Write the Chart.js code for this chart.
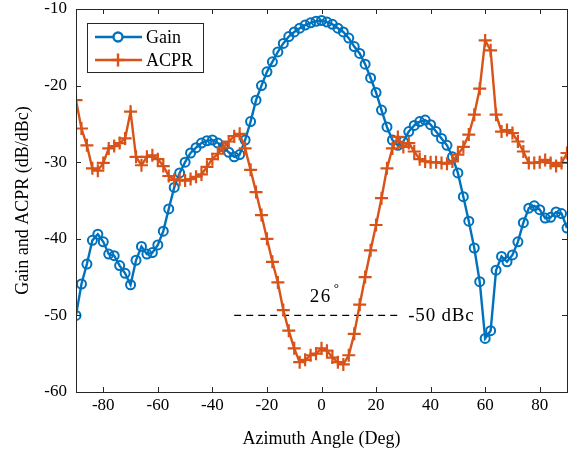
<!DOCTYPE html>
<html>
<head>
<meta charset="utf-8">
<script src="https://cdn.jsdelivr.net/npm/chart.js@4.4.1/dist/chart.umd.min.js"></script>
<style>
  html, body { margin: 0; padding: 0; background: #fff; }
  #wrap { width: 583px; height: 455px; }
</style>
</head>
<body>
<div id="wrap"><canvas id="chart" width="583" height="455"></canvas></div>
<script>
// azimuth angles (deg)
const angles = [-90, -88, -86, -84, -82, -80, -78, -76, -74, -72, -70, -68, -66, -64, -62, -60,
  -58, -56, -54, -52, -50, -48, -46, -44, -42, -40, -38, -36, -34, -32, -30, -28, -26, -24,
  -22, -20, -18, -16, -14, -12, -10, -8, -6, -4, -2, 0, 2, 4, 6, 8, 10, 12, 14, 16, 18, 20,
  22, 24, 26, 28, 30, 32, 34, 36, 38, 40, 42, 44, 46, 48, 50, 52, 54, 56, 58, 60, 62, 64,
  66, 68, 70, 72, 74, 76, 78, 80, 82, 84, 86, 88, 90];

const gain = [-50.0, -45.9, -43.3, -40.2, -39.4, -40.4, -42.0, -42.2, -43.5, -44.5, -46.0,
  -42.8, -41.0, -42.0, -41.8, -40.8, -39.0, -36.1, -33.3, -31.4, -30.0, -28.8, -28.1, -27.5,
  -27.2, -27.1, -27.5, -28.0, -28.7, -29.3, -29.0, -27.1, -24.7, -21.9, -20.0, -18.2, -16.9,
  -15.6, -14.5, -13.6, -13.0, -12.5, -12.1, -11.8, -11.6, -11.5, -11.7, -12.0, -12.5, -13.0,
  -13.8, -14.9, -15.8, -17.2, -19.0, -20.9, -23.2, -25.4, -27.1, -27.8, -27.3, -26.0, -25.2,
  -24.7, -24.5, -25.1, -26.0, -26.9, -27.8, -29.3, -31.4, -34.5, -37.7, -41.2, -45.6, -53.0,
  -52.0, -44.1, -42.3, -43.0, -42.1, -40.4, -37.9, -36.0, -35.7, -36.2, -37.3, -37.2, -36.5,
  -36.7, -38.6];

const acpr = [-21.9, -25.6, -27.8, -30.8, -31.1, -30.1, -28.2, -27.9, -27.5, -26.9, -23.4,
  -29.3, -30.4, -29.3, -29.1, -29.6, -30.5, -31.8, -32.3, -32.3, -32.4, -32.2, -31.9, -31.6,
  -30.6, -29.6, -28.9, -28.1, -27.3, -26.6, -26.3, -28.2, -31.0, -33.9, -36.9, -40.0, -43.0,
  -45.7, -49.3, -52.0, -54.3, -56.1, -55.8, -55.2, -55.0, -54.3, -54.6, -55.5, -56.1, -56.4,
  -55.2, -52.4, -48.6, -45.0, -41.5, -38.2, -34.7, -30.8, -28.2, -26.7, -28.0, -27.5, -28.6,
  -29.6, -29.9, -30.0, -30.0, -30.1, -30.2, -29.9, -29.0, -28.0, -26.4, -23.8, -20.4, -14.1,
  -15.4, -23.8, -26.0, -25.8, -26.2, -27.3, -28.6, -30.1, -30.1, -30.0, -29.7, -30.1, -30.5,
  -30.1, -28.8];

// -50 dBc reference line
const refAngles = [-32, 29];
const refLevel = [-50, -50];

const xTicks = [-80, -60, -40, -20, 0, 20, 40, 60, 80];
const yTicks = [-60, -50, -40, -30, -20, -10];

const BLUE = '#0072BD';
const ORANGE = '#D95319';
const AXIS = '#262626';
const FONT = "'Liberation Serif', 'Times New Roman', serif";

const toPoints = (xs, ys) => xs.map((x, i) => ({ x: x, y: ys[i] }));

// box + inward ticks like matlab
const frameTicks = {
  id: 'frameTicks',
  afterDatasetsDraw(chart) {
    const { ctx, chartArea: a, scales } = chart;
    const len = 5;
    ctx.save();
    ctx.strokeStyle = AXIS;
    ctx.lineWidth = 1;
    ctx.strokeRect(a.left + 0.5, a.top + 0.5, a.right - a.left, a.bottom - a.top);
    ctx.beginPath();
    xTicks.forEach(v => {
      const px = Math.round(scales.x.getPixelForValue(v)) + 0.5;
      ctx.moveTo(px, a.bottom); ctx.lineTo(px, a.bottom - len);
      ctx.moveTo(px, a.top); ctx.lineTo(px, a.top + len);
    });
    yTicks.forEach(v => {
      const py = Math.round(scales.y.getPixelForValue(v)) + 0.5;
      ctx.moveTo(a.left, py); ctx.lineTo(a.left + len, py);
      ctx.moveTo(a.right, py); ctx.lineTo(a.right - len, py);
    });
    ctx.stroke();
    ctx.restore();
  }
};

// legend box with line + marker samples
const legendBox = {
  id: 'legendBox',
  afterDraw(chart) {
    const { ctx } = chart;
    const x0 = 87, y0 = 23, w = 116, h = 49;
    ctx.save();
    ctx.fillStyle = '#fff';
    ctx.fillRect(x0, y0, w, h);
    ctx.strokeStyle = AXIS;
    ctx.lineWidth = 1;
    ctx.strokeRect(x0 + 0.5, y0 + 0.5, w, h);
    const rows = [37, 60];
    [0, 1].forEach((di, r) => {
      const ds = chart.data.datasets[di];
      const y = rows[r];
      ctx.strokeStyle = ds.borderColor;
      ctx.lineWidth = ds.borderWidth;
      ctx.beginPath();
      ctx.moveTo(95, y); ctx.lineTo(142, y);
      ctx.stroke();
      Chart.helpers.drawPoint(ctx, {
        pointStyle: ds.pointStyle, radius: ds.pointRadius, borderWidth: ds.pointBorderWidth
      }, 118, y);
      ctx.fillStyle = '#000';
      ctx.font = '18px ' + FONT;
      ctx.textBaseline = 'middle';
      ctx.textAlign = 'left';
      ctx.fillText(ds.label, 146, y + 1);
    });
    ctx.restore();
  }
};

// text notes
const notes = {
  id: 'notes',
  afterDraw(chart) {
    const { ctx, scales } = chart;
    ctx.save();
    ctx.fillStyle = '#000';
    ctx.textBaseline = 'middle';
    ctx.textAlign = 'left';
    ctx.font = '19px ' + FONT;
    ctx.letterSpacing = '1.5px';
    const x1 = scales.x.getPixelForValue(-4.3);
    const y1 = scales.y.getPixelForValue(-47.6);
    ctx.fillText('26', x1, y1);
    ctx.letterSpacing = '0px';
    ctx.font = '13px ' + FONT;
    ctx.fillText('\u00B0', x1 + 24, y1 - 8);
    ctx.font = '19px ' + FONT;
    ctx.letterSpacing = '0.8px';
    ctx.fillText('-50 dBc', scales.x.getPixelForValue(31.8), scales.y.getPixelForValue(-50.1));
    ctx.restore();
  }
};

new Chart(document.getElementById('chart'), {
  type: 'line',
  data: {
    datasets: [
      {
        label: 'Gain',
        data: toPoints(angles, gain),
        borderColor: BLUE,
        backgroundColor: 'rgba(0,0,0,0)',
        borderWidth: 2.4,
        pointStyle: 'circle',
        pointRadius: 4.5,
        pointBorderWidth: 2,
        pointBorderColor: BLUE,
        pointBackgroundColor: 'rgba(0,0,0,0)',
        tension: 0,
        order: 1
      },
      {
        label: 'ACPR',
        data: toPoints(angles, acpr),
        borderColor: ORANGE,
        backgroundColor: ORANGE,
        borderWidth: 2.4,
        pointStyle: 'cross',
        pointRadius: 6.5,
        pointBorderWidth: 2.2,
        pointBorderColor: ORANGE,
        tension: 0,
        order: 0
      },
      {
        label: 'ref',
        data: toPoints(refAngles, refLevel),
        borderColor: '#000',
        borderWidth: 1.3,
        borderDash: [7, 5],
        pointRadius: 0,
        order: 2
      }
    ]
  },
  options: {
    responsive: false,
    animation: false,
    layout: { padding: { top: 9, right: 16, left: 0, bottom: 0 } },
    plugins: {
      legend: { display: false },
      tooltip: { enabled: false }
    },
    scales: {
      x: {
        type: 'linear',
        min: -90,
        max: 90,
        afterBuildTicks: s => { s.ticks = xTicks.map(v => ({ value: v })); },
        afterFit: s => { s.height = 63; s.paddingLeft = 0; s.paddingRight = 0; },
        grid: { display: false, drawTicks: false },
        border: { display: false },
        ticks: {
          color: '#000',
          padding: 3,
          maxRotation: 0,
          font: { family: FONT, size: 17 }
        },
        title: {
          display: true,
          text: 'Azimuth Angle (Deg)',
          color: '#000',
          padding: { top: 2, bottom: 5 },
          font: { family: FONT, size: 18 }
        }
      },
      y: {
        min: -60,
        max: -10,
        afterBuildTicks: s => { s.ticks = yTicks.map(v => ({ value: v })); },
        afterFit: s => { s.width = 76; s.paddingTop = 0; s.paddingBottom = 0; },
        grid: { display: false, drawTicks: false },
        border: { display: false },
        ticks: {
          color: '#000',
          padding: 9,
          font: { family: FONT, size: 17 }
        },
        title: {
          display: true,
          text: 'Gain and ACPR (dB/dBc)',
          color: '#000',
          padding: { top: 12, bottom: 0 },
          font: { family: FONT, size: 18 }
        }
      }
    }
  },
  plugins: [frameTicks, legendBox, notes]
});
</script>
</body>
</html>
